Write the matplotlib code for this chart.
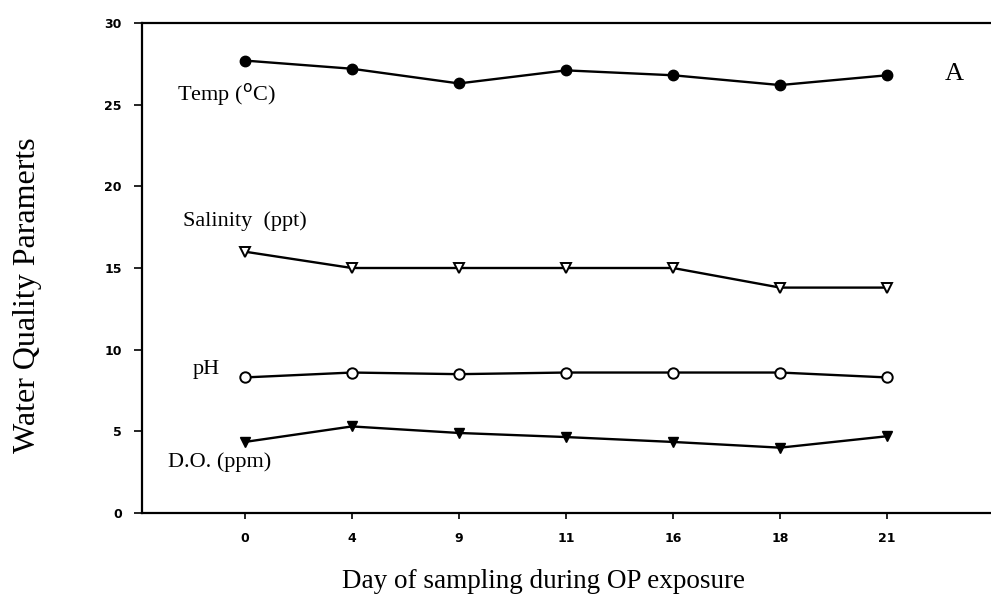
import numpy as np
import matplotlib.pyplot as plt

days = ['0', '4', '9', '11', '16', '18', '21']
temp = [27.7, 27.2, 26.3, 27.1, 26.8, 26.2, 26.8]
salinity = [16.0, 15.0, 15.0, 15.0, 15.0, 13.8, 13.8]
ph = [8.3, 8.6, 8.5, 8.6, 8.6, 8.6, 8.3]
do = [4.35, 5.3, 4.9, 4.65, 4.35, 4.0, 4.7]

x = np.arange(len(days))
serif = 'Liberation Serif'

fig = plt.figure(figsize=(9.91, 6.08), dpi=100)
ax = fig.add_axes([142/991, 95/608, 1 - 142/991, 490/608])

# series
ax.plot(x, temp, color='black', lw=1.7, marker='o', ms=7.5, mfc='black')
ax.plot(x, salinity, color='black', lw=1.7, marker='v', ms=7.5, mfc='white', mew=1.4)
ax.plot(x, ph, color='black', lw=1.7, marker='o', ms=7.5, mfc='white', mew=1.4)
ax.plot(x, do, color='black', lw=1.7, marker='v', ms=7.5, mfc='black')

# labels next to the lines
ax.text(-0.63, 25.6, 'Temp ($^{\\mathrm{o}}$C)', family=serif, fontsize=16, va='center')
ax.text(-0.58, 17.9, 'Salinity  (ppt)', family=serif, fontsize=16, va='center')
ax.text(-0.49, 8.8, 'pH', family=serif, fontsize=16, va='center')
ax.text(-0.72, 3.1, 'D.O. (ppm)', family=serif, fontsize=16, va='center')
ax.text(6.63, 26.9, 'A', family=serif, fontsize=19, va='center', ha='center')

ax.set_xlim(-0.96, 6.97)
ax.set_ylim(0, 30)
ax.set_xticks(x)
ax.set_xticklabels(days)
ax.set_yticks([0, 5, 10, 15, 20, 25, 30])
for lab in ax.get_xticklabels() + ax.get_yticklabels():
    lab.set_family('DejaVu Sans')
    lab.set_fontweight('bold')
    lab.set_fontsize(9)
ax.tick_params(axis='x', direction='out', length=4, width=1.2, pad=9.5)
ax.tick_params(axis='y', direction='out', length=6, width=1.2, pad=8.5)
ax.spines['right'].set_visible(False)
for s in ['left', 'bottom', 'top']:
    ax.spines[s].set_linewidth(1.6)

fig.text(543/991, 1 - 582/608, 'Day of sampling during OP exposure',
         family=serif, fontsize=19.5, ha='center', va='center')
fig.text(28/991, 1 - 295/608, 'Water Quality Paramerts',
         family=serif, fontsize=23, ha='center', va='center', rotation=90)

fig.savefig('out.png', dpi=100)
